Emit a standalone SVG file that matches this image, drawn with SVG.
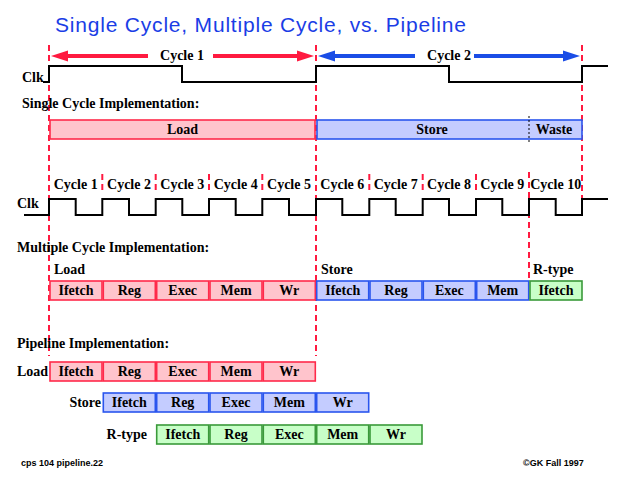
<svg xmlns="http://www.w3.org/2000/svg" width="618" height="483" viewBox="0 0 618 483">
<style>
.t{font-family:"Liberation Serif","Times New Roman",serif;font-weight:bold;font-size:14px;fill:#000}
.c{text-anchor:middle}
.r{fill:#ffc4cc;stroke:#ff2a4a;stroke-width:1.6}
.b{fill:#c4ccff;stroke:#2a55ee;stroke-width:1.6}
.g{fill:#c8ffc8;stroke:#3a9a3a;stroke-width:1.6}
.dash{stroke:#ff1a40;stroke-width:2;stroke-dasharray:6 4;fill:none}
.clk{stroke:#000;stroke-width:2;fill:none}
.foot{font-family:"Liberation Sans",Arial,sans-serif;font-size:9px;font-weight:bold;fill:#000}
</style>
<rect width="618" height="483" fill="#fff"/>
<text id="title" x="55" y="32" font-family="Liberation Sans, Arial, sans-serif" font-size="21" fill="#1a3de6" textLength="411" lengthAdjust="spacing">Single Cycle, Multiple Cycle, vs. Pipeline</text>

<g id="connectors">
  <line class="dash" x1="49" y1="45" x2="49" y2="356"/>
  <line class="dash" x1="316" y1="45" x2="316" y2="356"/>
  <line class="dash" x1="582" y1="45" x2="582" y2="206"/>
  <line class="dash" x1="529" y1="172" x2="529" y2="280"/>
  <line class="dash" x1="102.3" y1="174" x2="102.3" y2="194"/>
  <line class="dash" x1="155.7" y1="174" x2="155.7" y2="194"/>
  <line class="dash" x1="209" y1="174" x2="209" y2="194"/>
  <line class="dash" x1="262.3" y1="174" x2="262.3" y2="194"/>
  <line class="dash" x1="369.3" y1="174" x2="369.3" y2="194"/>
  <line class="dash" x1="422.7" y1="174" x2="422.7" y2="194"/>
  <line class="dash" x1="476" y1="174" x2="476" y2="194"/>
  <g id="arrow-cycle1" fill="#ff1a40" stroke="#ff1a40">
    <line x1="64" y1="56" x2="148" y2="56" stroke-width="4"/>
    <line x1="213" y1="56" x2="300" y2="56" stroke-width="4"/>
    <polygon points="51,56 68,50.5 68,61.5" stroke="none"/>
    <polygon points="314,56 297,50.5 297,61.5" stroke="none"/>
  </g>
  <g id="arrow-cycle2" fill="#1a4de6" stroke="#1a4de6">
    <line x1="332" y1="56" x2="415" y2="56" stroke-width="4"/>
    <line x1="474" y1="56" x2="565" y2="56" stroke-width="4"/>
    <polygon points="318,56 335,50.5 335,61.5" stroke="none"/>
    <polygon points="580,56 563,50.5 563,61.5" stroke="none"/>
  </g>
</g>

<g id="cycle-labels-top">
  <text class="t c" x="182" y="60">Cycle 1</text>
  <text class="t c" x="449" y="60">Cycle 2</text>
</g>

<g id="clk-single">
  <text class="t" x="22" y="82">Clk</text>
  <path class="clk" d="M43 82 H49 V66 H182 V82 H316 V66 H449 V82 H582 V66 H608"/>
</g>

<text class="t" x="22" y="108">Single Cycle Implementation:</text>

<g id="single-load">
  <rect class="r" x="50" y="120" width="265" height="19"/>
  <text class="t c" x="182.5" y="134">Load</text>
</g>
<g id="single-store">
  <rect class="b" x="317" y="120" width="265" height="19"/>
  <text class="t c" x="432" y="134">Store</text>
  <line x1="529" y1="116" x2="529" y2="143" stroke="#000" stroke-width="1" stroke-dasharray="2 2"/>
  <text class="t c" x="554" y="134">Waste</text>
</g>

<g id="cycle-labels-bottom">
  <text class="t c" x="75.7" y="189">Cycle 1</text>
  <text class="t c" x="129" y="189">Cycle 2</text>
  <text class="t c" x="182.3" y="189">Cycle 3</text>
  <text class="t c" x="235.7" y="189">Cycle 4</text>
  <text class="t c" x="289" y="189">Cycle 5</text>
  <text class="t c" x="342.3" y="189">Cycle 6</text>
  <text class="t c" x="395.7" y="189">Cycle 7</text>
  <text class="t c" x="449" y="189">Cycle 8</text>
  <text class="t c" x="502.3" y="189">Cycle 9</text>
  <text class="t c" x="555.7" y="189">Cycle 10</text>
</g>

<g id="clk-multi">
  <text class="t" x="17" y="208">Clk</text>
  <path class="clk" d="M24 215 H49 V199 H75.7 V215 H102.3 V199 H129 V215 H155.7 V199 H182.3 V215 H209 V199 H235.7 V215 H262.3 V199 H289 V215 H316 V199 H342.3 V215 H369.3 V199 H395.7 V215 H422.7 V199 H449 V215 H476 V199 H502.3 V215 H529 V199 H555.7 V215 H582 V199 H608"/>
</g>

<text class="t" x="17" y="252">Multiple Cycle Implementation:</text>
<text class="t" x="54" y="274">Load</text>
<text class="t" x="321" y="274">Store</text>
<text class="t" x="533" y="274">R-type</text>

<g id="mc-load-ifetch"><rect class="r" x="50" y="281" width="52" height="19"/><text class="t c" x="76" y="295">Ifetch</text></g>
<g id="mc-load-reg"><rect class="r" x="103.3" y="281" width="52" height="19"/><text class="t c" x="129.3" y="295">Reg</text></g>
<g id="mc-load-exec"><rect class="r" x="156.7" y="281" width="52" height="19"/><text class="t c" x="182.7" y="295">Exec</text></g>
<g id="mc-load-mem"><rect class="r" x="210" y="281" width="52" height="19"/><text class="t c" x="236" y="295">Mem</text></g>
<g id="mc-load-wr"><rect class="r" x="263.3" y="281" width="52" height="19"/><text class="t c" x="289.3" y="295">Wr</text></g>
<g id="mc-store-ifetch"><rect class="b" x="316.7" y="281" width="52" height="19"/><text class="t c" x="342.7" y="295">Ifetch</text></g>
<g id="mc-store-reg"><rect class="b" x="370" y="281" width="52" height="19"/><text class="t c" x="396" y="295">Reg</text></g>
<g id="mc-store-exec"><rect class="b" x="423.3" y="281" width="52" height="19"/><text class="t c" x="449.3" y="295">Exec</text></g>
<g id="mc-store-mem"><rect class="b" x="476.7" y="281" width="52" height="19"/><text class="t c" x="502.7" y="295">Mem</text></g>
<g id="mc-rtype-ifetch"><rect class="g" x="530" y="281" width="52" height="19"/><text class="t c" x="556" y="295">Ifetch</text></g>

<text class="t" x="17" y="348">Pipeline Implementation:</text>
<text class="t" x="17" y="376">Load</text>
<text class="t" x="101" y="407" text-anchor="end">Store</text>
<text class="t" x="147" y="439" text-anchor="end">R-type</text>

<g id="pl-load-ifetch"><rect class="r" x="50" y="362" width="52" height="19"/><text class="t c" x="76" y="376">Ifetch</text></g>
<g id="pl-load-reg"><rect class="r" x="103.3" y="362" width="52" height="19"/><text class="t c" x="129.3" y="376">Reg</text></g>
<g id="pl-load-exec"><rect class="r" x="156.7" y="362" width="52" height="19"/><text class="t c" x="182.7" y="376">Exec</text></g>
<g id="pl-load-mem"><rect class="r" x="210" y="362" width="52" height="19"/><text class="t c" x="236" y="376">Mem</text></g>
<g id="pl-load-wr"><rect class="r" x="263.3" y="362" width="52" height="19"/><text class="t c" x="289.3" y="376">Wr</text></g>

<g id="pl-store-ifetch"><rect class="b" x="103.3" y="393" width="52" height="19"/><text class="t c" x="129.3" y="407">Ifetch</text></g>
<g id="pl-store-reg"><rect class="b" x="156.7" y="393" width="52" height="19"/><text class="t c" x="182.7" y="407">Reg</text></g>
<g id="pl-store-exec"><rect class="b" x="210" y="393" width="52" height="19"/><text class="t c" x="236" y="407">Exec</text></g>
<g id="pl-store-mem"><rect class="b" x="263.3" y="393" width="52" height="19"/><text class="t c" x="289.3" y="407">Mem</text></g>
<g id="pl-store-wr"><rect class="b" x="316.7" y="393" width="52" height="19"/><text class="t c" x="342.7" y="407">Wr</text></g>

<g id="pl-rtype-ifetch"><rect class="g" x="156.7" y="425" width="52" height="19"/><text class="t c" x="182.7" y="439">Ifetch</text></g>
<g id="pl-rtype-reg"><rect class="g" x="210" y="425" width="52" height="19"/><text class="t c" x="236" y="439">Reg</text></g>
<g id="pl-rtype-exec"><rect class="g" x="263.3" y="425" width="52" height="19"/><text class="t c" x="289.3" y="439">Exec</text></g>
<g id="pl-rtype-mem"><rect class="g" x="316.7" y="425" width="52" height="19"/><text class="t c" x="342.7" y="439">Mem</text></g>
<g id="pl-rtype-wr"><rect class="g" x="370" y="425" width="52" height="19"/><text class="t c" x="396" y="439">Wr</text></g>

<text class="foot" x="21" y="466">cps 104 pipeline.22</text>
<text class="foot" x="523" y="466">©GK Fall 1997</text>
</svg>
